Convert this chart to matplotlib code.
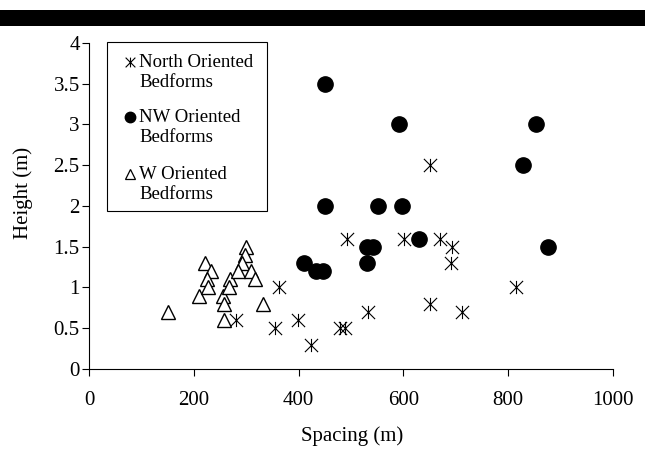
import matplotlib
matplotlib.use('Agg')
import matplotlib.pyplot as plt
from matplotlib.path import Path
from matplotlib.patches import Rectangle

plt.rcParams['font.family'] = ['Liberation Serif', 'DejaVu Serif']

# North oriented bedforms (asterisks)
north_x = [651, 493, 601, 669, 693, 691, 815, 651, 533, 712, 478, 488, 424, 280, 362, 354, 399]
north_y = [2.5, 1.6, 1.6, 1.6, 1.5, 1.3, 1.0, 0.8, 0.7, 0.7, 0.5, 0.5, 0.3, 0.6, 1.0, 0.5, 0.6]

# NW oriented bedforms (filled circles)
nw_x = [451, 592, 853, 829, 451, 552, 598, 630, 531, 541, 876, 410, 434, 446, 531]
nw_y = [3.5, 3.0, 3.0, 2.5, 2.0, 2.0, 2.0, 1.6, 1.5, 1.5, 1.5, 1.3, 1.2, 1.2, 1.3]

# W oriented bedforms (open triangles)
w_x = [150, 210, 222, 232, 225, 227, 256, 257, 258, 269, 267, 299, 298, 292, 284, 309, 316, 332]
w_y = [0.7, 0.9, 1.3, 1.2, 1.1, 1.0, 0.9, 0.8, 0.6, 1.1, 1.0, 1.5, 1.4, 1.3, 1.2, 1.2, 1.1, 0.8]

labels = [('North Oriented', 'Bedforms'), ('NW Oriented', 'Bedforms'), ('W Oriented', 'Bedforms')]
x_ticks = [0, 200, 400, 600, 800, 1000]
y_ticks = [0, 0.5, 1, 1.5, 2, 2.5, 3, 3.5, 4]
y_ticklabels = ['0', '0.5', '1', '1.5', '2', '2.5', '3', '3.5', '4']

# excel style asterisk: X plus a vertical bar
star = Path([(-1, -1), (1, 1), (-1, 1), (1, -1), (0, -1), (0, 1)],
            [Path.MOVETO, Path.LINETO] * 3)

fig = plt.figure(figsize=(6.45, 4.5), dpi=100)
ax = fig.add_axes([0.138, 0.18, 0.8125, 0.725])

# black bar across the top
fig.patches.append(Rectangle((0, 0.943), 1, 0.034, transform=fig.transFigure,
                             facecolor='black', edgecolor='none'))

ax.plot(north_x, north_y, ls='none', marker=star, ms=9.5, mfc='none',
        mec='black', mew=0.8)
ax.plot(nw_x, nw_y, ls='none', marker='o', ms=11, mfc='black', mec='black')
ax.plot(w_x, w_y, ls='none', marker='^', ms=10, mfc='white', mec='black', mew=1)

ax.set_xlim(0, 1000)
ax.set_ylim(0, 4)
ax.set_xticks(x_ticks)
ax.set_yticks(y_ticks)
ax.set_yticklabels(y_ticklabels)
ax.tick_params(direction='out', length=4.7, width=0.8, labelsize=15, colors='black')
ax.tick_params(axis='x', pad=11)
ax.tick_params(axis='y', pad=2)
for s in ['top', 'right']:
    ax.spines[s].set_visible(False)
for s in ['left', 'bottom']:
    ax.spines[s].set_linewidth(0.8)

ax.set_xlabel('Spacing (m)', fontsize=15)
ax.set_ylabel('Height (m)', fontsize=15)
ax.xaxis.set_label_coords(0.503, -0.175)
ax.yaxis.set_label_coords(-0.107, 0.539)

# hand made legend box (marker sits next to first line of text)
W, H = 524.0, 326.3
x0, y0 = 89.0, 369.0
def to_ax(px, py):
    return (px - x0) / W, (y0 - py) / H

bx0, by0 = to_ax(107, 211)
bx1, by1 = to_ax(267, 42)
ax.add_patch(Rectangle((bx0, by0), bx1 - bx0, by1 - by0, transform=ax.transAxes,
                       facecolor='white', edgecolor='black', lw=0.8, clip_on=False,
                       zorder=5))
entry_y = [62, 117, 174]
styles = [dict(marker=star, ms=7, mfc='none', mec='black', mew=0.8),
          dict(marker='o', ms=7.5, mfc='black', mec='black'),
          dict(marker='^', ms=7.5, mfc='white', mec='black', mew=0.9)]
for py, lab, st in zip(entry_y, labels, styles):
    mx, my = to_ax(130, py)
    ax.plot([mx], [my], ls='none', transform=ax.transAxes, clip_on=False,
            zorder=6, **st)
    for k, line in enumerate(lab):
        tx, ty = to_ax(139, py + 20 * k)
        ax.text(tx, ty, line, transform=ax.transAxes, fontsize=13.5,
                va='center', ha='left', zorder=6)

fig.savefig('out.png', dpi=100)
